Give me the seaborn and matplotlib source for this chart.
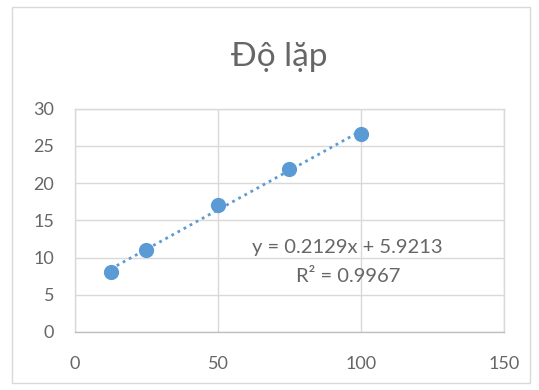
import numpy as np
import pandas as pd
import matplotlib
matplotlib.use("Agg")
import matplotlib.pyplot as plt
import seaborn as sns
from matplotlib.patches import Rectangle

# Data
x_vals = [12.5, 25, 50, 75, 100]
y_vals = [8.1, 11.0, 17.1, 21.9, 26.6]
x_ticks = [0, 50, 100, 150]
y_ticks = [0, 5, 10, 15, 20, 25, 30]
title = "Độ lặp"
eq_text = "y = 0.2129x + 5.9213"
r2_text = "R² = 0.9967"

sns.set_theme(style="white")
plt.rcParams['font.family'] = ['Lato', 'DejaVu Sans']

df = pd.DataFrame({"x": x_vals, "y": y_vals})

fig = plt.figure(figsize=(5.39, 3.9), dpi=100)
ax = fig.add_axes([0.139, 0.149, 0.796, 0.572])

grid_c = "#D9D9D9"
blue = "#5B9BD5"
text_c = "#666666"

# trendline
coef = np.polyfit(df["x"], df["y"], 1)
xs = np.array([min(x_vals), max(x_vals)])
ax.plot(xs, np.polyval(coef, xs), linestyle=(0, (1, 1.5)), color=blue, lw=2, zorder=2)

sns.scatterplot(data=df, x="x", y="y", ax=ax, color=blue, s=120, edgecolor=blue, linewidth=0, zorder=3)

ax.set_xlim(0, 150)
ax.set_ylim(0, 30)
ax.set_xticks(x_ticks)
ax.set_yticks(y_ticks)
ax.grid(True, color=grid_c, lw=1)
ax.set_axisbelow(True)
for s in ax.spines.values():
    s.set_color(grid_c)
    s.set_linewidth(1)
ax.spines['bottom'].set_color("#BFBFBF")
ax.tick_params(axis='both', length=0, labelsize=13, labelcolor=text_c)
ax.tick_params(axis='x', pad=17)
ax.tick_params(axis='y', pad=15)
ax.set_xlabel("")
ax.set_ylabel("")

ax.text(95.4, 11.3, eq_text, ha="center", va="center", fontsize=14.5, color=text_c)
ax.text(95.4, 7.4, r2_text, ha="center", va="center", fontsize=14.5, color=text_c)

fig.text(0.518, 0.854, title, ha="center", va="center", fontsize=24, color=text_c)

fig.patches.append(Rectangle((0.022, 0.018), 0.962, 0.965, transform=fig.transFigure,
                             fill=False, edgecolor="#D9D9D9", lw=1))

fig.savefig("out.png", dpi=100)
